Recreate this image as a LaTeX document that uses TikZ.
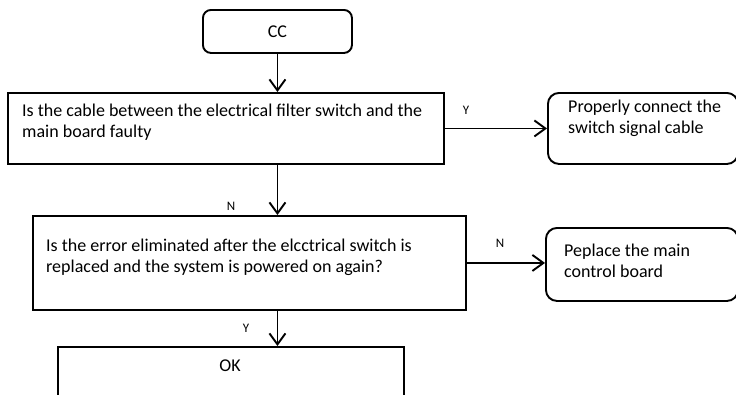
\documentclass[tikz,border=0pt]{standalone}
\usepackage{fontspec}
\setmainfont{Carlito}
\usetikzlibrary{arrows.meta}
\begin{document}
\begin{tikzpicture}[x=1pt,y=-1pt,
  every node/.style={font=\fontsize{18}{21}\selectfont},
  box/.style={draw,line width=1.9pt,inner sep=0pt,anchor=north west},
  rbox/.style={box,rounded corners=11pt},
  txt/.style={anchor=base west,inner sep=0pt,align=left},
  lbl/.style={font=\fontsize{13}{15}\selectfont,inner sep=0pt},
  arr/.style={line width=1.9pt,-{Straight Barb[length=11pt,width=16pt]}}]
\useasboundingbox (0,0) rectangle (736,394);
\clip (0,0) rectangle (736,394);
% boxes
\node[box,rounded corners=8pt,minimum width=149pt,minimum height=43pt] (cc) at (202,9) {CC};
\node[box,minimum width=436pt,minimum height=71pt] (q1) at (7,92) {};
\node[txt] (q1t) at (22,137) {Is the cable between the electrical filter switch and the\\main board faulty};
\node[rbox,minimum width=190pt,minimum height=71pt] (a1) at (547,92) {};
\node[txt] (a1t) at (568,133) {Properly connect the\\switch signal cable};
\node[box,minimum width=433pt,minimum height=94pt] (q2) at (32,215) {};
\node[txt] (q2t) at (46,272) {Is the error eliminated after the elcctrical switch is\\replaced and the system is powered on again?};
\node[rbox,minimum width=192pt,minimum height=73pt] (a2) at (545,227) {};
\node[txt] (a2t) at (564,277) {Peplace the main\\control board};
\node[box,minimum width=346pt,minimum height=80pt] (ok) at (57,346) {};
\node[anchor=base,inner sep=0pt] (okt) at (230,371) {OK};
% connectors
\draw[arr] (cc.south) -- (cc.south |- q1.north);
\draw[arr] (q1.east) -- (a1.west);
\draw[arr] (cc.south |- q1.south) -- (cc.south |- q2.north);
\draw[arr] (q2.east) -- (q2.east -| a2.west);
\draw[arr] (cc.south |- q2.south) -- (cc.south |- ok.north);
% labels
\node[lbl] (ly1) at (466,110) {Y};
\node[lbl] (ln1) at (231,206) {N};
\node[lbl] (ln2) at (500,243) {N};
\node[lbl] (ly2) at (246,328) {Y};
\end{tikzpicture}
\end{document}
